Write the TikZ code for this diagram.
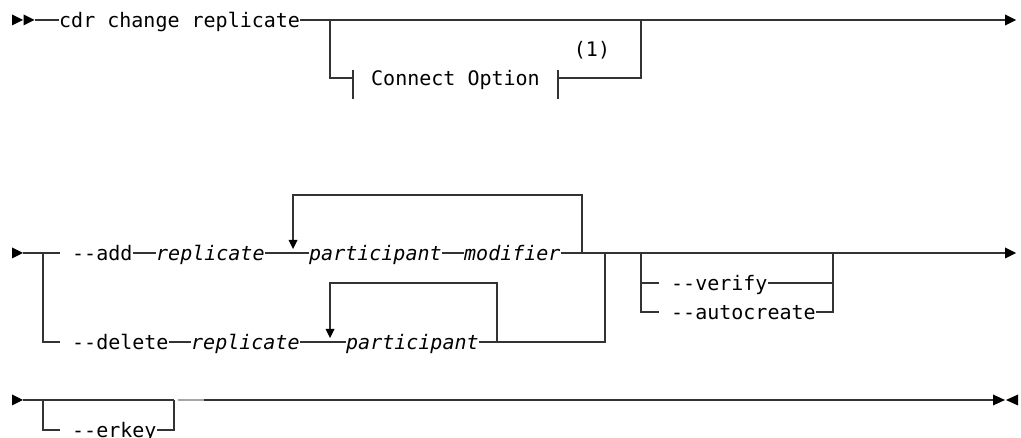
\documentclass[tikz,border=0pt]{standalone}
\usepackage{fontspec}
\setmonofont{DejaVu Sans Mono}
\newcommand\kwfont{\ttfamily\fontsize{20}{24}\selectfont}
\colorlet{linec}{black!80}
\tikzset{
  kw/.style={inner xsep=0pt, inner ysep=0pt, text height=21pt, text depth=5pt, anchor=west, font=\kwfont},
  var/.style={kw, font=\kwfont\itshape},
  rr/.style={line width=1.2pt, draw=linec},
  tip/.style={fill=black, draw=none}
}
\begin{document}
\begin{tikzpicture}[x=1pt,y=-1pt]
\useasboundingbox (0,0) rectangle (1021,438);
% ---------- row 1 ----------
\coordinate (s1) at (35,20);
\coordinate (e1) at (1005,20);
\coordinate (b1a) at (330,20);
\coordinate (b1b) at (641,20);
\node[kw] (cdr) at (59,20) {cdr change replicate};
\node[kw] (conn) at (371,78) {Connect Option};
\node[inner sep=0pt, font=\kwfont] (fn) at (592,50) {(1)};
\fill[tip] (12,14.5) -- (23,20) -- (12,25.5) -- cycle;
\fill[tip] (23.5,14.5) -- (34.5,20) -- (23.5,25.5) -- cycle;
\draw[rr] (s1) -- (cdr.west);
\draw[rr] (cdr.east) -- (e1);
\fill[tip] (e1) ++(0,-5.5) -- (1016,20) -- (1005,25.5) -- cycle;
\draw[rr] (b1a) |- (353,78);
\draw[rr] (353,70) -- (353,99);
\draw[rr] (558,70) -- (558,99);
\draw[rr] (558,78) -| (b1b);
% ---------- row 2 ----------
\coordinate (s2) at (23,253);
\coordinate (e2) at (1005,253);
\node[kw] (add) at (72,253) {-{}-add};
\node[var] (rep1) at (156,253) {replicate};
\node[var] (part1) at (309,253) {participant};
\node[var] (mod) at (464,253) {modifier};
\node[kw] (del) at (72,342) {-{}-delete};
\node[var] (rep2) at (191,342) {replicate};
\node[var] (part2) at (346,342) {participant};
\node[kw] (ver) at (671,283) {-{}-verify};
\node[kw] (auto) at (671,312) {-{}-autocreate};
\fill[tip] (12,247.5) -- (23,253) -- (12,258.5) -- cycle;
\draw[rr] (s2) -- (60,253);
\draw[rr] (43,253) |- (60,342);
\draw[rr] (add.east) -- (rep1.west);
\draw[rr] (rep1.east) -- (part1.west);
\draw[rr] (part1.east) -- (mod.west);
\draw[rr] (mod.east) -- (e2);
\fill[tip] (e2) ++(0,-5.5) -- (1016,253) -- (1005,258.5) -- cycle;
\draw[rr] (582,253) |- (293,195) -- (293,241);
\fill[tip] (288.5,240) -- (297.5,240) -- (293,249) -- cycle;
\draw[rr] (del.east) -- (rep2.west);
\draw[rr] (rep2.east) -- (part2.west);
\draw[rr] (part2.east) -| (605,253);
\draw[rr] (497,342) |- (330,283) -- (330,329);
\fill[tip] (325.5,329) -- (334.5,329) -- (330,338) -- cycle;
\draw[rr] (641,253) |- (659,312);
\draw[rr] (641,283) -- (659,283);
\draw[rr] (ver.east) -| (833,253);
\draw[rr] (auto.east) -| (833,283);
% ---------- row 3 ----------
\coordinate (s3) at (23,400);
\coordinate (e3) at (993,400);
\node[kw] (erk) at (72,430) {-{}-erkey};
\fill[tip] (12,394.5) -- (23,400) -- (12,405.5) -- cycle;
\draw[rr] (s3) -- (174,400);
\draw[line width=1.2pt, draw=black!35] (178,400) -- (204,400);
\draw[rr] (204,400) -- (e3);
\draw[rr] (43,400) |- (60,430);
\draw[rr] (erk.east) -| (174,400);
\fill[tip] (e3) ++(0,-5.5) -- (1005,400) -- (993,405.5) -- cycle;
\fill[tip] (1018,394.5) -- (1006,400) -- (1018,405.5) -- cycle;
\end{tikzpicture}
\end{document}
